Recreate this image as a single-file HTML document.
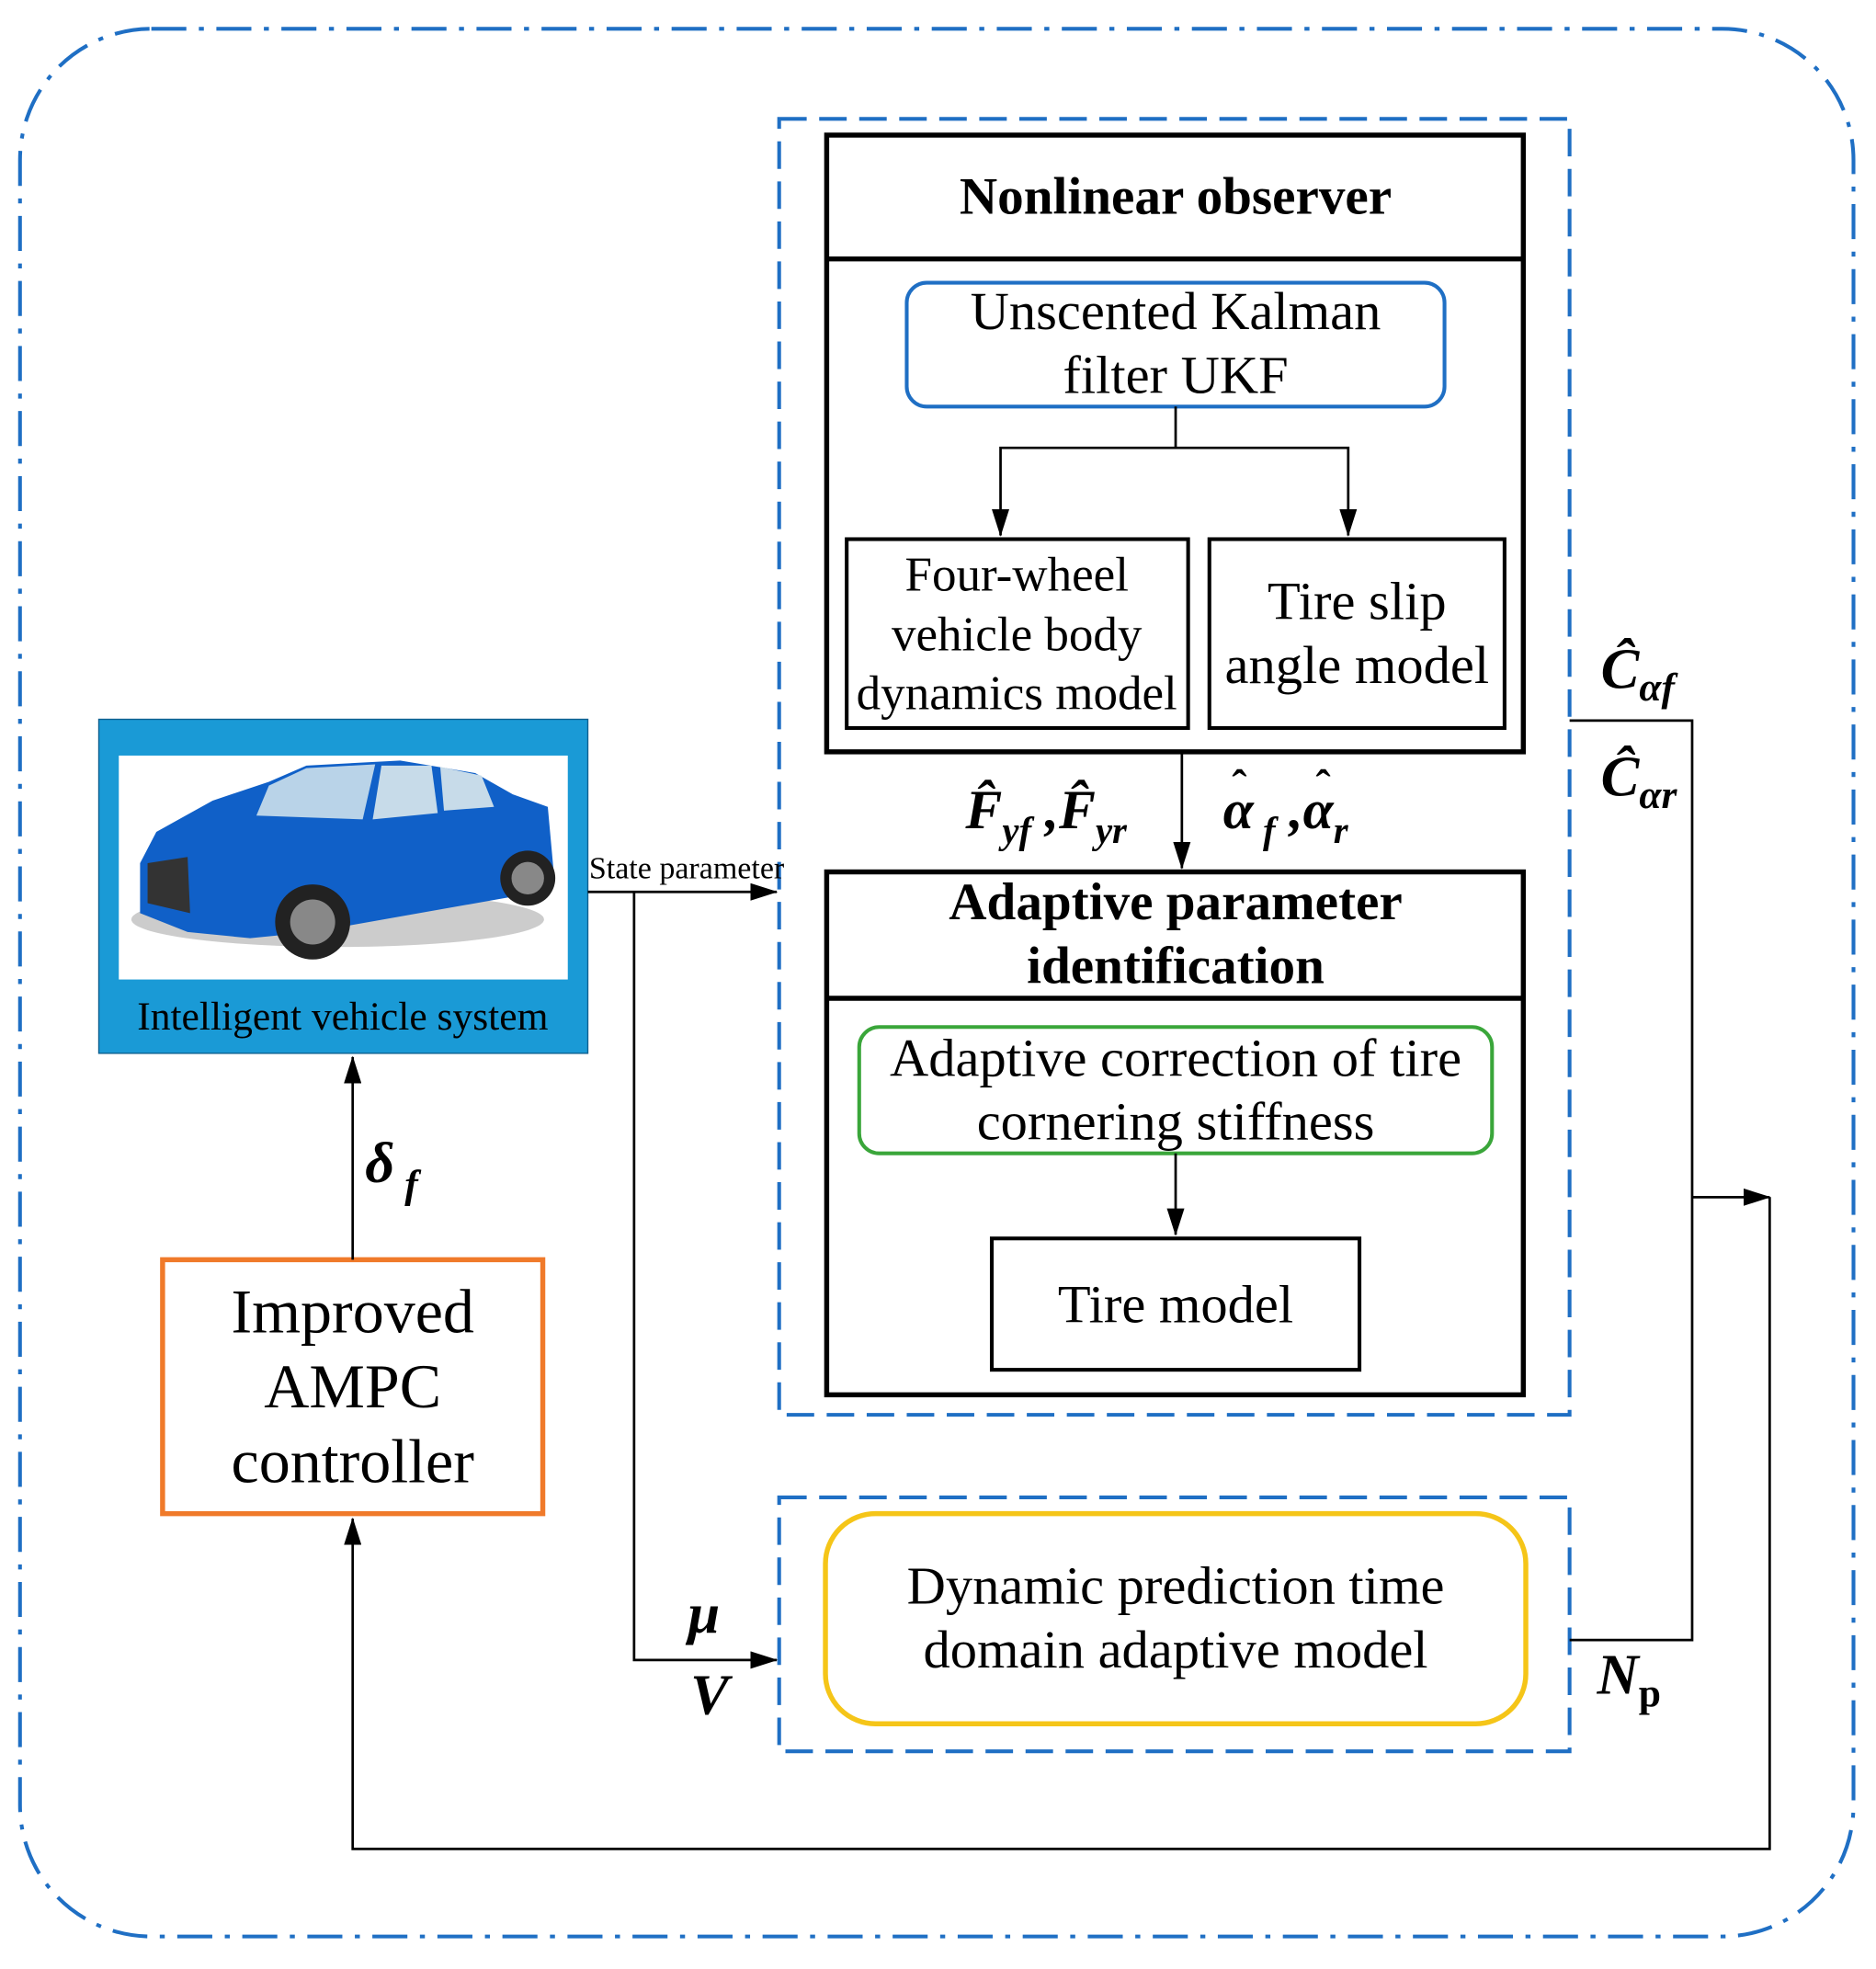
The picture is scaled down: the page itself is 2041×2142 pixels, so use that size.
<!DOCTYPE html>
<html><head><meta charset="utf-8"><style>
html,body{margin:0;padding:0;background:#fff;}
svg{display:block;}
text{font-family:"Liberation Serif",serif;fill:#000;}
</style></head><body>
<svg width="2041" height="2142" viewBox="0 0 1500 1574" preserveAspectRatio="none" xmlns="http://www.w3.org/2000/svg">
<defs>
<marker id="ar2" markerWidth="22" markerHeight="14" refX="21" refY="7" orient="auto" markerUnits="userSpaceOnUse">
<path d="M0,0 L22,7 L0,14 Z" fill="#000"/></marker>
</defs>
<rect width="1500" height="1574" fill="#fff"/>
<rect x="16" y="23" width="1466" height="1525" rx="105" fill="none" stroke="#1f6fc4" stroke-width="3" stroke-dasharray="28,10,4,10"/>
<rect x="623" y="95" width="632" height="1036" fill="none" stroke="#1f6fc4" stroke-width="3" stroke-dasharray="22,10"/>
<rect x="623" y="1197" width="632" height="203" fill="none" stroke="#1f6fc4" stroke-width="3" stroke-dasharray="22,10"/>
<rect x="661" y="108" width="557" height="493" fill="none" stroke="#000" stroke-width="4"/>
<line x1="661" y1="207" x2="1218" y2="207" stroke="#000" stroke-width="4"/>
<text x="940" y="171" text-anchor="middle" font-size="42" font-weight="bold">Nonlinear observer</text>
<rect x="725" y="226" width="430" height="99" rx="16" fill="none" stroke="#1f6fc4" stroke-width="3"/>
<text x="940" y="263" text-anchor="middle" font-size="43">Unscented Kalman</text>
<text x="940" y="314" text-anchor="middle" font-size="43">filter UKF</text>
<polyline points="940,325 940,358 800,358 800,428" fill="none" stroke="#000" stroke-width="2" marker-end="url(#ar2)"/>
<polyline points="940,358 1078,358 1078,428" fill="none" stroke="#000" stroke-width="2" marker-end="url(#ar2)"/>
<rect x="677" y="431" width="273" height="151" fill="none" stroke="#000" stroke-width="3"/>
<rect x="967" y="431" width="236" height="151" fill="none" stroke="#000" stroke-width="3"/>
<text x="813" y="472" text-anchor="middle" font-size="39">Four-wheel</text>
<text x="813" y="520" text-anchor="middle" font-size="39">vehicle body</text>
<text x="813" y="567" text-anchor="middle" font-size="39">dynamics model</text>
<text x="1085" y="495" text-anchor="middle" font-size="43">Tire slip</text>
<text x="1085" y="546" text-anchor="middle" font-size="43">angle model</text>
<line x1="945" y1="601" x2="945" y2="694" stroke="#000" stroke-width="2" marker-end="url(#ar2)"/>
<text x="772" y="662" font-size="44" font-weight="bold" font-style="italic">F̂<tspan font-size="30" dy="12">yf</tspan><tspan dy="-12"> ,</tspan>F̂<tspan font-size="30" dy="12">yr</tspan></text>
<text x="978" y="662" font-size="44" font-weight="bold" font-style="italic">α<tspan font-size="30" dy="12"> f</tspan><tspan dy="-12"> ,</tspan>α<tspan font-size="30" dy="12">r</tspan></text>
<text x="985" y="640" font-size="36" font-weight="bold">ˆ</text>
<text x="1052" y="640" font-size="36" font-weight="bold">ˆ</text>
<rect x="661" y="697" width="557" height="418" fill="none" stroke="#000" stroke-width="4"/>
<line x1="661" y1="798" x2="1218" y2="798" stroke="#000" stroke-width="4"/>
<text x="940" y="735" text-anchor="middle" font-size="42" font-weight="bold">Adaptive parameter</text>
<text x="940" y="786" text-anchor="middle" font-size="42" font-weight="bold">identification</text>
<rect x="687" y="821" width="506" height="101" rx="16" fill="none" stroke="#3aa63a" stroke-width="3"/>
<text x="940" y="860" text-anchor="middle" font-size="43">Adaptive correction of tire</text>
<text x="940" y="911" text-anchor="middle" font-size="43">cornering stiffness</text>
<line x1="940" y1="922" x2="940" y2="987" stroke="#000" stroke-width="2" marker-end="url(#ar2)"/>
<rect x="793" y="990" width="294" height="105" fill="none" stroke="#000" stroke-width="3"/>
<text x="940" y="1057" text-anchor="middle" font-size="43">Tire model</text>
<rect x="660" y="1210" width="560" height="168" rx="40" fill="none" stroke="#f5c518" stroke-width="4"/>
<text x="940" y="1282" text-anchor="middle" font-size="43">Dynamic prediction time</text>
<text x="940" y="1333" text-anchor="middle" font-size="43">domain adaptive model</text>
<polyline points="1255,576 1353,576 1353,1311 1255,1311" fill="none" stroke="#000" stroke-width="2"/>
<line x1="1353" y1="957" x2="1415" y2="957" stroke="#000" stroke-width="2" marker-end="url(#ar2)"/>
<polyline points="1415,957 1415,1478 282,1478 282,1214" fill="none" stroke="#000" stroke-width="2" marker-end="url(#ar2)"/>
<text x="1280" y="550" font-size="46" font-weight="bold" font-style="italic">Ĉ<tspan font-size="32" dy="10">αf</tspan></text>
<text x="1280" y="636" font-size="46" font-weight="bold" font-style="italic">Ĉ<tspan font-size="32" dy="10">αr</tspan></text>
<text x="1277" y="1354" font-size="46" font-weight="bold" font-style="italic">N<tspan font-size="32" dy="10" font-style="normal">p</tspan></text>
<rect x="79" y="575" width="391" height="267" fill="#1a9ad6" stroke="#0d5f8f" stroke-width="1"/>
<rect x="95" y="604" width="359" height="179" fill="#fff"/>
<ellipse cx="270" cy="735" rx="165" ry="22" fill="#aaa" opacity="0.6"/>
<path d="M112,690 L125,665 L170,640 L215,625 L245,612 L320,608 L380,618 L410,635 L438,645 L443,700 L420,715 L250,745 L200,750 L150,745 L112,730 Z" fill="#1060c8"/>
<path d="M215,628 L245,614 L300,611 L290,655 L205,652 Z" fill="#b9d3e8"/>
<path d="M305,612 L345,612 L350,650 L298,655 Z" fill="#c7dbe9"/>
<path d="M352,613 L385,620 L395,645 L355,648 Z" fill="#c7dbe9"/>
<path d="M118,690 L150,685 L152,730 L118,722 Z" fill="#333"/>
<circle cx="250" cy="737" r="30" fill="#222"/><circle cx="250" cy="737" r="18" fill="#888"/>
<circle cx="422" cy="702" r="22" fill="#222"/><circle cx="422" cy="702" r="13" fill="#888"/>
<text x="274" y="823" text-anchor="middle" font-size="32">Intelligent vehicle system</text>
<line x1="470" y1="713" x2="621" y2="713" stroke="#000" stroke-width="2" marker-end="url(#ar2)"/>
<text x="471" y="702" font-size="25">State parameter</text>
<polyline points="507,713 507,1327 621,1327" fill="none" stroke="#000" stroke-width="2" marker-end="url(#ar2)"/>
<text x="550" y="1305" font-size="46" font-weight="bold" font-style="italic">μ</text>
<text x="552" y="1370" font-size="46" font-weight="bold" font-style="italic">V</text>
<rect x="130" y="1007" width="304" height="203" fill="none" stroke="#f07a2a" stroke-width="4"/>
<text x="282" y="1065" text-anchor="middle" font-size="50">Improved</text>
<text x="282" y="1125" text-anchor="middle" font-size="50">AMPC</text>
<text x="282" y="1185" text-anchor="middle" font-size="50">controller</text>
<line x1="282" y1="1007" x2="282" y2="845" stroke="#000" stroke-width="2" marker-end="url(#ar2)"/>
<text x="292" y="945" font-size="46" font-weight="bold" font-style="italic">δ<tspan font-size="32" dy="12"> f</tspan></text>
</svg>
</body></html>
